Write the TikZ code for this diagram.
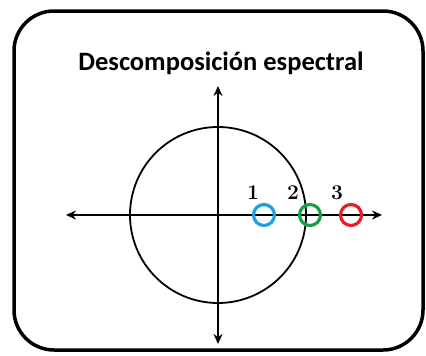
\documentclass[tikz,border=0pt]{standalone}
\usepackage{fontspec}
\newfontfamily\titlefont{Carlito}
\usetikzlibrary{arrows.meta}
\definecolor{polo1}{RGB}{30,160,220}
\definecolor{polo2}{RGB}{20,160,70}
\definecolor{polo3}{RGB}{230,30,40}
\begin{document}
\begin{tikzpicture}[x=1pt,y=-1pt]
				\useasboundingbox (0,0) rectangle (426,356);
				\draw[line width=3.5pt, rounded corners=40pt] (14,11) rectangle (423,350);
				\node (titulo) at (221,63) {\titlefont\bfseries\fontsize{26.5}{30}\selectfont Descomposición espectral};
				\coordinate (O) at (218,215);
				\coordinate (xizq) at (66,215);
				\coordinate (xder) at (382,215);
				\coordinate (yarr) at (218,86);
				\coordinate (yab) at (218,344);
				\draw[line width=2pt, {Stealth[length=10pt,width=9pt]}-{Stealth[length=10pt,width=9pt]}] (xizq) -- (xder);
				\draw[line width=2pt, {Stealth[length=10pt,width=9pt]}-{Stealth[length=10pt,width=9pt]}] (yab) -- (yarr);
				\draw[line width=1.8pt] (O) circle (88);
				\node[circle, draw=polo1, line width=3.2pt, minimum size=21pt, inner sep=0pt] (p1) at (264,215) {};
				\node[circle, draw=polo2, line width=3.2pt, minimum size=21pt, inner sep=0pt] (p2) at (310,215) {};
				\node[circle, draw=polo3, line width=3.2pt, minimum size=21pt, inner sep=0pt] (p3) at (351,215) {};
				\node[font=\bfseries\fontsize{21}{24}\selectfont] (l1) at (253,193) {1};
				\node[font=\bfseries\fontsize{21}{24}\selectfont] (l2) at (293,193) {2};
				\node[font=\bfseries\fontsize{21}{24}\selectfont] (l3) at (337,193) {3};
			\end{tikzpicture}
\end{document}
